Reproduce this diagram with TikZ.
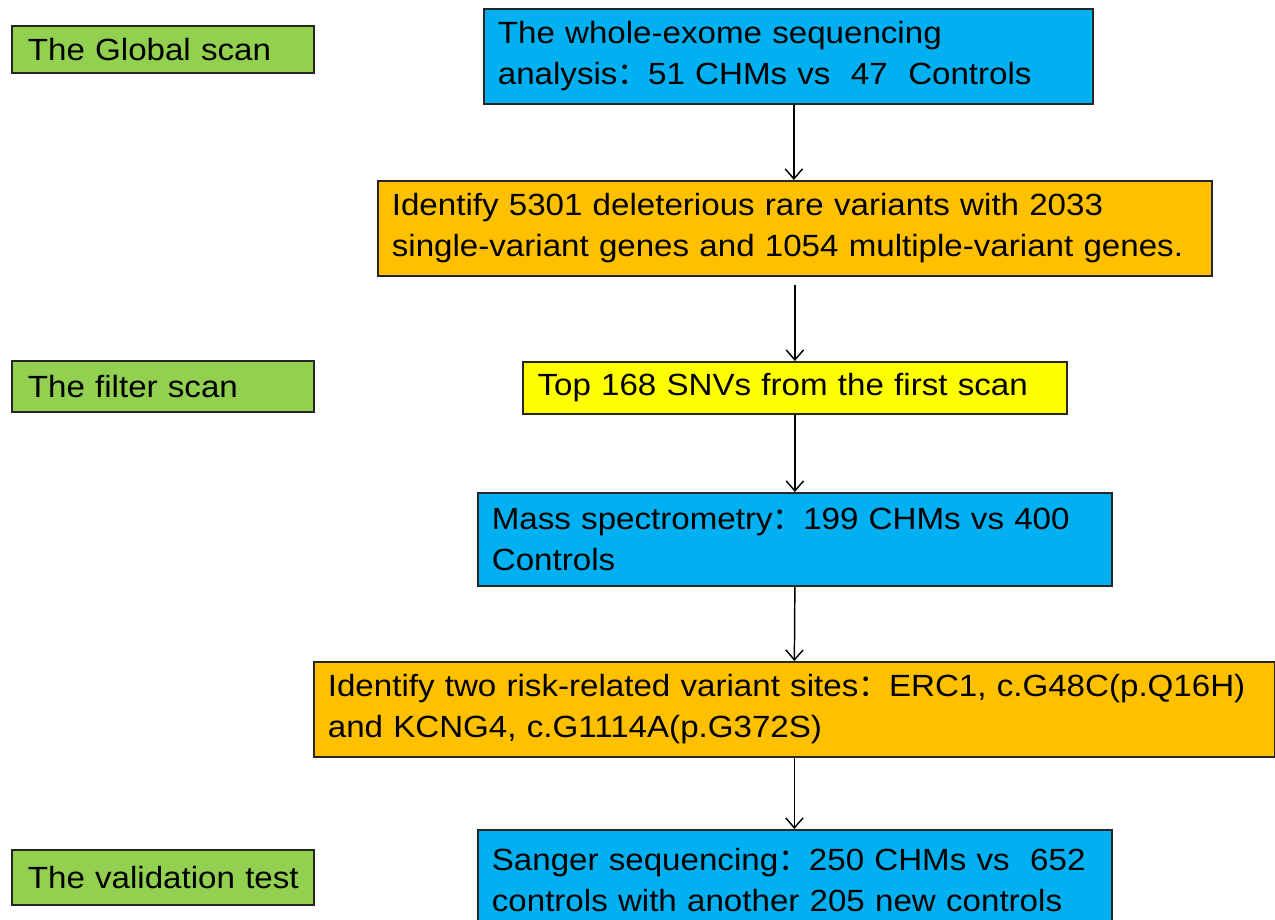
\documentclass[tikz,border=0pt]{standalone}
\usepackage{fontspec}
\setmainfont{Liberation Sans}[FakeStretch=1.08]
\newfontfamily\cjk{Noto Sans CJK SC}
\usetikzlibrary{arrows.meta}
\definecolor{cblue}{HTML}{00B0F0}
\definecolor{corange}{HTML}{FFC000}
\definecolor{cyellow}{HTML}{FFFF00}
\definecolor{cgreen}{HTML}{92D050}
\definecolor{cline}{HTML}{262626}
\newcommand{\fc}{{\cjk ：}}
\tikzset{
  px/.style={x=0.75pt,y=-0.75pt},
  box/.style={draw=cline, line width=1.3pt, anchor=north west, align=left,
    inner xsep=10.5pt, inner ysep=0pt,
    font=\fontsize{23}{30.75}\selectfont},
  lab/.style={box, fill=cgreen, text width=302*0.75pt-24pt, minimum width=302*0.75pt, inner xsep=12pt},
  arr/.style={draw=black, line width=1.1pt, -{Straight Barb[length=7.5pt,width=13pt,line width=1.1pt]}}
}
\begin{document}
\begin{tikzpicture}[px]
\useasboundingbox (0,0) rectangle (1275,920);
\fill[white] (0,0) rectangle (1275,920);
% left labels
\node[lab, minimum height=47*0.75pt] (g1) at (11,25) {\mbox{The Global scan}};
\node[lab, minimum height=51*0.75pt] (g2) at (11,360) {\mbox{The filter scan}};
\node[lab, minimum height=55*0.75pt] (g3) at (11,849) {\mbox{The validation test}};
% flow boxes
\node[box, fill=cblue, text width=609*0.75pt-21pt, minimum width=609*0.75pt, minimum height=95*0.75pt] (b1) at (483,8)
  {The whole-exome sequencing\\analysis\fc 51 CHMs vs\ \ 47\ \ Controls};
\node[box, fill=corange, text width=834*0.75pt-21pt, minimum width=834*0.75pt, minimum height=95*0.75pt] (o1) at (377,180)
  {Identify 5301 deleterious rare variants with 2033\\single-variant genes and 1054 multiple-variant genes.};
\node[box, fill=cyellow, text width=544*0.75pt-22pt, minimum width=544*0.75pt, minimum height=52*0.75pt, inner xsep=11pt] (y1) at (522,361)
  {Top 168 SNVs from the first scan};
\node[box, fill=cblue, text width=634*0.75pt-21pt, minimum width=634*0.75pt, minimum height=93*0.75pt] (b2) at (477,492)
  {Mass spectrometry\fc 199 CHMs vs 400\\Controls};
\node[box, fill=corange, text width=961*0.75pt-21pt, minimum width=961*0.75pt, minimum height=95*0.75pt] (o2) at (313,661)
  {Identify two risk-related variant sites\fc ERC1, c.G48C(p.Q16H)\\and KCNG4, c.G1114A(p.G372S)};
\node[box, fill=cblue, text width=634*0.75pt-21pt, minimum width=634*0.75pt, minimum height=100*0.75pt] (b3) at (477,829)
  {Sanger sequencing\fc 250 CHMs vs\ \ 652\\controls with another 205 new controls};
% connectors
\coordinate (c1) at ([xshift=5.5*0.75pt]b1.south);
\draw[arr] (c1) -- (c1 |- o1.north);
\draw[arr] ([yshift=-8*0.75pt]o1.south) -- (y1.north);
\draw[arr] (y1.south) -- (b2.north);
\draw[arr] (b2.south) -- (o2.north);
\draw[arr] (o2.south) -- (o2.south |- b3.north);
\end{tikzpicture}
\end{document}
